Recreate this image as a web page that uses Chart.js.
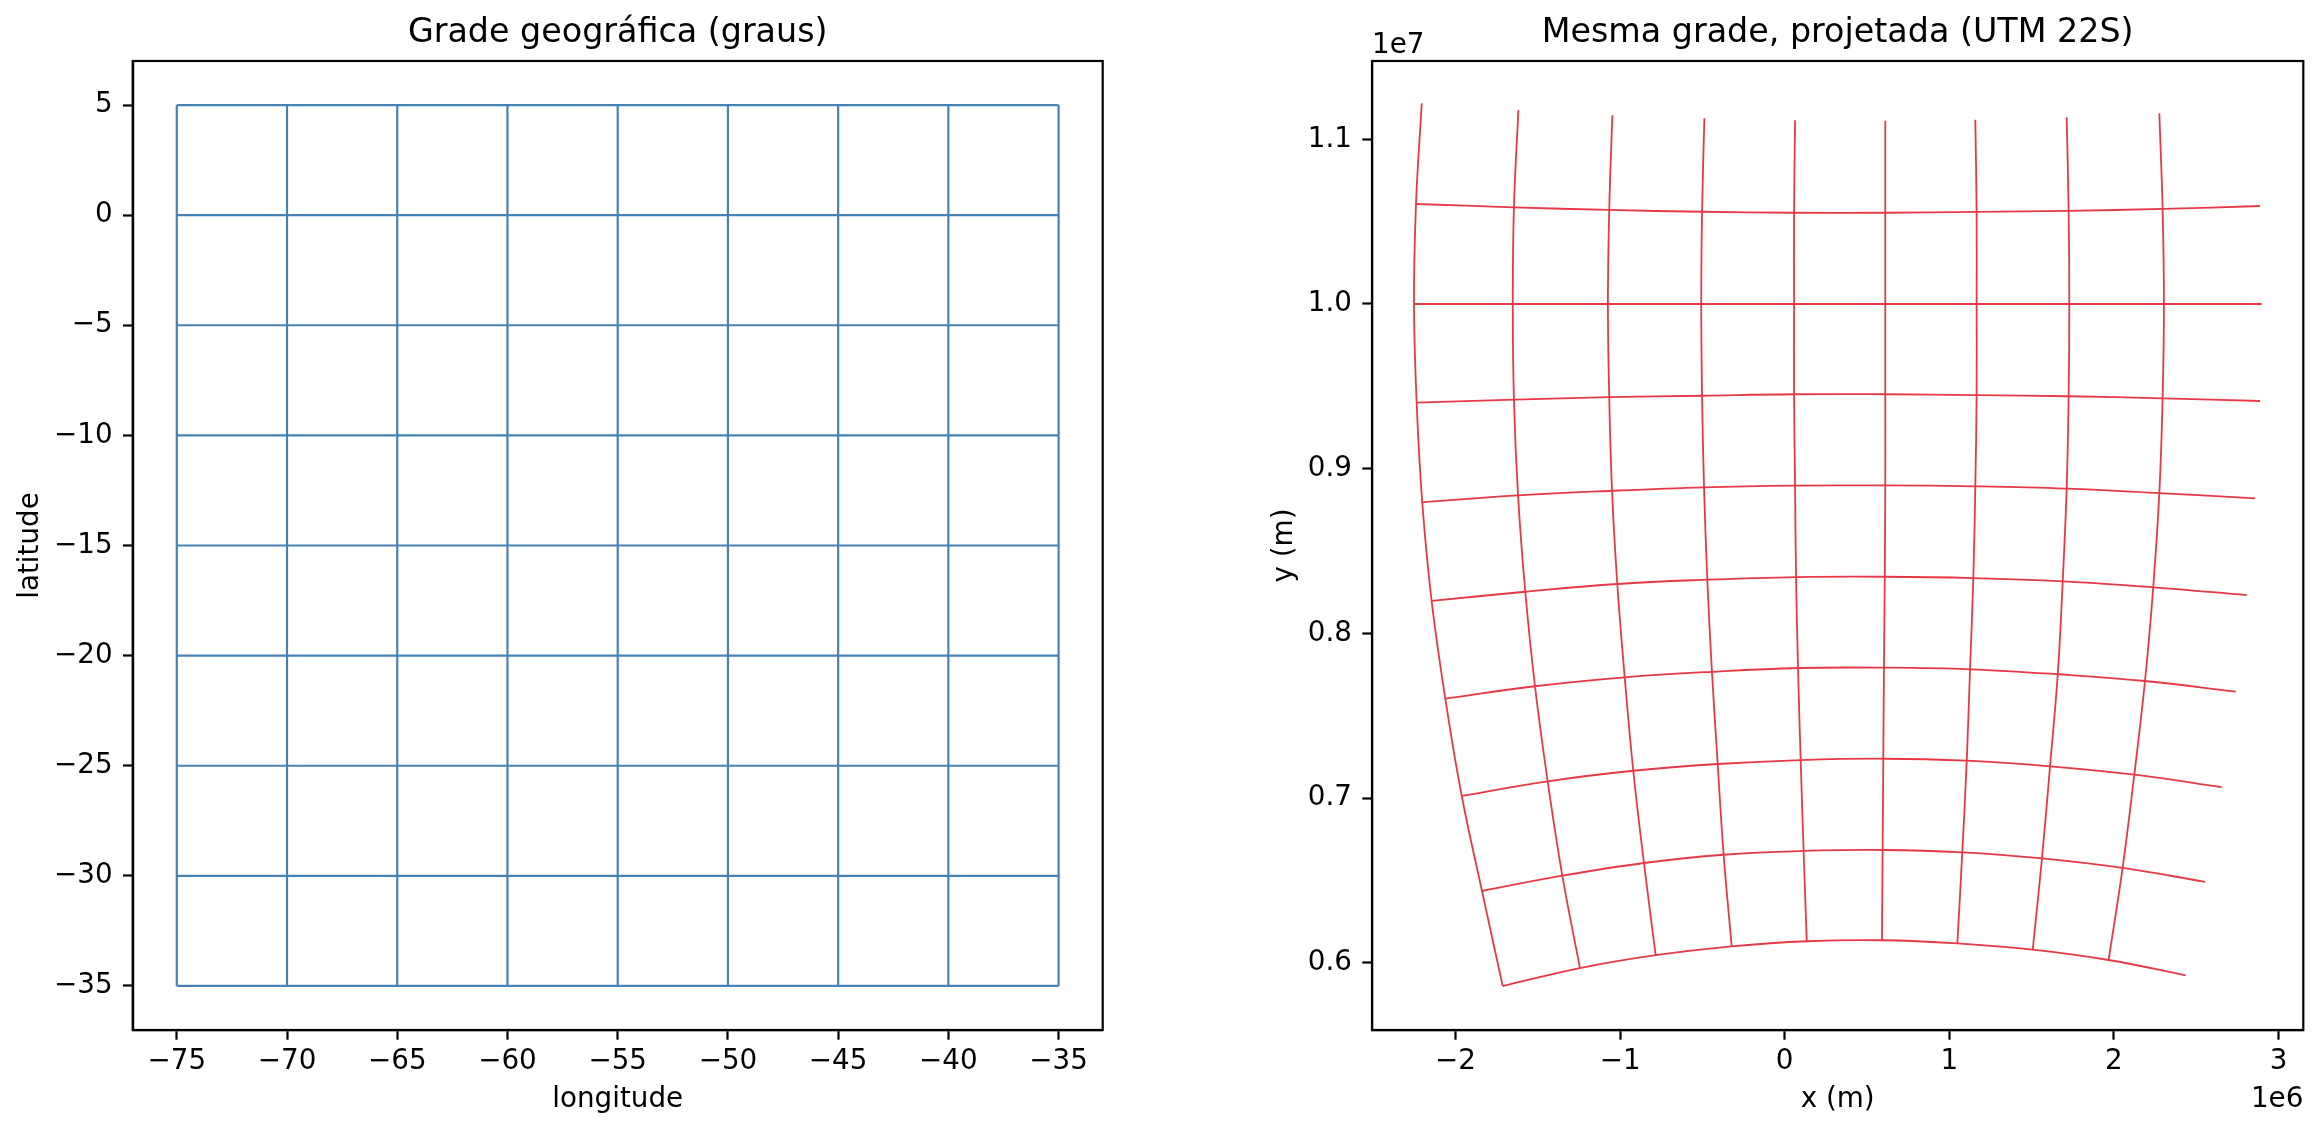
<!DOCTYPE html>
<html>
<head>
<meta charset="utf-8">
<script src="https://cdn.jsdelivr.net/npm/chart.js@4.4.0/dist/chart.umd.min.js"></script>
<style>
  html, body { margin: 0; padding: 0; background: #fff; }
  body { width: 2322px; height: 1133px; position: relative; overflow: hidden; }
  canvas { position: absolute; top: 0; }
  #geo { left: 0; }
  #utm { left: 1160px; }
</style>
</head>
<body>
<canvas id="geo" width="1160" height="1133"></canvas>
<canvas id="utm" width="1162" height="1133"></canvas>
<script>
// Geographic grid (degrees)
const lons = [-75, -70, -65, -60, -55, -50, -45, -40, -35];
const lats = [5, 0, -5, -10, -15, -20, -25, -30, -35];

// Projected grid
// rows = latitudes, columns = longitudes; x in 1e6 m, y in 1e7 m
const projLats = [10, 5, 0, -5, -10, -15, -20, -25, -30, -35];
const projLons = [-75, -70, -65, -60, -55, -50, -45, -40, -35, -30];
const projX = [
  [-2.205, -1.618, -1.047, -0.488, 0.063, 0.611, 1.158, 1.713, 2.276, null],
  [-2.240, -1.645, -1.066, -0.502, 0.057, 0.611, 1.166, 1.725, 2.296, 2.888],
  [-2.252, -1.652, -1.074, -0.507, 0.057, 0.611, 1.166, 1.729, 2.304, 2.898],
  [-2.236, -1.645, -1.066, -0.502, 0.057, 0.611, 1.166, 1.725, 2.296, 2.888],
  [-2.202, -1.620, -1.049, -0.490, 0.063, 0.611, 1.158, 1.713, 2.276, 2.857],
  [-2.145, -1.576, -1.017, -0.470, 0.069, 0.608, 1.146, 1.689, 2.239, 2.807],
  [-2.062, -1.517, -0.972, -0.442, 0.081, 0.603, 1.126, 1.659, 2.189, 2.740],
  [-1.962, -1.440, -0.920, -0.407, 0.097, 0.599, 1.106, 1.612, 2.124, 2.655],
  [-1.839, -1.351, -0.855, -0.371, 0.115, 0.595, 1.079, 1.563, 2.053, 2.553],
  [-1.713, -1.244, -0.784, -0.322, 0.134, 0.591, 1.049, 1.507, 1.968, 2.436]
];
const projY = [
  [1.1219, 1.1176, 1.1146, 1.1128, 1.1115, 1.1113, 1.1119, 1.1134, 1.1158, null],
  [1.0607, 1.0587, 1.0571, 1.0560, 1.0554, 1.0554, 1.0559, 1.0566, 1.0577, 1.0595],
  [1.0000, 1.0000, 1.0000, 1.0000, 1.0000, 1.0000, 1.0000, 1.0000, 1.0000, 1.0000],
  [0.9401, 0.9419, 0.9434, 0.9443, 0.9452, 0.9452, 0.9447, 0.9440, 0.9427, 0.9411],
  [0.8796, 0.8838, 0.8866, 0.8887, 0.8897, 0.8899, 0.8893, 0.8879, 0.8852, 0.8820],
  [0.8197, 0.8253, 0.8300, 0.8326, 0.8342, 0.8344, 0.8336, 0.8316, 0.8280, 0.8233],
  [0.7604, 0.7679, 0.7733, 0.7767, 0.7790, 0.7792, 0.7782, 0.7752, 0.7711, 0.7646],
  [0.7013, 0.7102, 0.7166, 0.7207, 0.7231, 0.7239, 0.7227, 0.7193, 0.7142, 0.7067],
  [0.6436, 0.6529, 0.6606, 0.6656, 0.6679, 0.6685, 0.6671, 0.6634, 0.6576, 0.6492],
  [0.5859, 0.5968, 0.6046, 0.6100, 0.6131, 0.6137, 0.6118, 0.6080, 0.6017, 0.5924]
];

// Tick labels
const geoXTicks = [-75, -70, -65, -60, -55, -50, -45, -40, -35];
const geoYTicks = [-35, -30, -25, -20, -15, -10, -5, 0, 5];
const utmXTicks = [-2, -1, 0, 1, 2, 3];
const utmYTicks = [0.6, 0.7, 0.8, 0.9, 1.0, 1.1];

const FONT = 'DejaVu Sans';
const TICK_PX = 27.78;
const TITLE_PX = 33.33;
const BLUE = '#4682b4';
const RED = '#e63946';

const minus = s => String(s).replace('-', '\u2212');

// Draw the top and right spines too (Chart.js only draws the axis side)
const frame = {
  id: 'frame',
  afterDatasetsDraw(chart) {
    const { ctx, chartArea: a } = chart;
    ctx.save();
    ctx.strokeStyle = '#000';
    ctx.lineWidth = 2.2;
    ctx.strokeRect(a.left, a.top, a.right - a.left, a.bottom - a.top);
    ctx.restore();
  }
};

// matplotlib style offset labels (1e7 / 1e6)
const offsetLabels = {
  id: 'offsetLabels',
  afterDraw(chart) {
    const { ctx, chartArea: a } = chart;
    ctx.save();
    ctx.font = `${TICK_PX}px "${FONT}"`;
    ctx.fillStyle = '#000';
    ctx.textBaseline = 'alphabetic';
    ctx.textAlign = 'left';
    ctx.fillText('1e7', a.left, a.top - 8.3);
    ctx.textAlign = 'right';
    ctx.fillText('1e6', a.right, a.bottom + 76.5);
    ctx.restore();
  }
};

function makeAxis({ horizontal, min, max, ticks, format, title, titlePad, size }) {
  return {
    type: 'linear',
    position: horizontal ? 'bottom' : 'left',
    min: min,
    max: max,
    afterBuildTicks: s => { s.ticks = ticks.map(v => ({ value: v })); },
    afterFit: s => { if (horizontal) s.height = size; else s.width = size; },
    ticks: {
      callback: format,
      autoSkip: false,
      maxRotation: 0,
      color: '#000',
      padding: horizontal ? 5 : 10.3,
      font: { family: FONT, size: TICK_PX, lineHeight: 1.2 }
    },
    grid: {
      drawOnChartArea: false,
      drawTicks: true,
      tickLength: 9.7,
      tickWidth: 2.2,
      tickColor: '#000'
    },
    border: { display: true, color: '#000', width: 2.2 },
    title: {
      display: true,
      text: title,
      color: '#000',
      font: { family: FONT, size: TICK_PX, lineHeight: 1.2 },
      padding: horizontal ? { top: 0, bottom: titlePad } : { top: titlePad, bottom: 0 }
    }
  };
}

function baseOptions(titleText, padRight, xAxis, yAxis) {
  return {
    responsive: false,
    animation: false,
    devicePixelRatio: 1,
    events: [],
    layout: { padding: { left: 0, top: 0, right: padRight, bottom: 0 } },
    elements: { point: { radius: 0 } },
    plugins: {
      legend: { display: false },
      tooltip: { enabled: false },
      title: {
        display: true,
        text: titleText,
        fullSize: false,
        color: '#000',
        font: { family: FONT, size: TITLE_PX, weight: 'normal', lineHeight: 1.2 },
        padding: { top: 13, bottom: 8 }
      }
    },
    scales: { x: xAxis, y: yAxis }
  };
}

// Left panel: straight meridians and parallels
function geoDatasets() {
  const sets = [];
  lons.forEach(lon => {
    sets.push({ data: lats.map(lat => ({ x: lon, y: lat })) });
  });
  lats.forEach(lat => {
    sets.push({ data: lons.map(lon => ({ x: lon, y: lat })) });
  });
  return sets.map(s => Object.assign(s, { borderColor: BLUE, borderWidth: 2.2, tension: 0 }));
}

// Right panel: curved meridians (lat 10..-35) and parallels (lon -75..-30)
function utmDatasets() {
  const sets = [];
  for (let j = 0; j < projLons.length - 1; j++) {
    sets.push({ data: projLats.map((lat, i) => ({ x: projX[i][j] * 1e6, y: projY[i][j] * 1e7 })) });
  }
  for (let i = 1; i < projLats.length; i++) {
    sets.push({ data: projLons.map((lon, j) => ({ x: projX[i][j] * 1e6, y: projY[i][j] * 1e7 })) });
  }
  return sets.map(s => Object.assign(s, { borderColor: RED, borderWidth: 1.8, tension: 0.4 }));
}

new Chart(document.getElementById('geo'), {
  type: 'line',
  data: { datasets: geoDatasets() },
  options: baseOptions(
    'Grade geográfica (graus)', 57.3,
    makeAxis({ horizontal: true, min: -77, max: -33, ticks: geoXTicks, format: v => minus(v),
      title: 'longitude', titlePad: 16.6, size: 103 }),
    makeAxis({ horizontal: false, min: -37, max: 7, ticks: geoYTicks, format: v => minus(v),
      title: 'latitude', titlePad: 14.6, size: 132.7 })
  ),
  plugins: [frame]
});

new Chart(document.getElementById('utm'), {
  type: 'line',
  data: { datasets: utmDatasets() },
  options: baseOptions(
    'Mesma grade, projetada (UTM 22S)', 18.7,
    makeAxis({ horizontal: true, min: -2.5073e6, max: 3.1507e6, ticks: utmXTicks.map(v => v * 1e6),
      format: v => minus(Math.round(v / 1e6)), title: 'x (m)', titlePad: 16.6, size: 103 }),
    makeAxis({ horizontal: false, min: 0.5592e7, max: 1.14754e7, ticks: utmYTicks.map(v => v * 1e7),
      format: v => (v / 1e7).toFixed(1), title: 'y (m)', titlePad: 108.3, size: 212 })
  ),
  plugins: [frame, offsetLabels]
});
</script>
</body>
</html>
